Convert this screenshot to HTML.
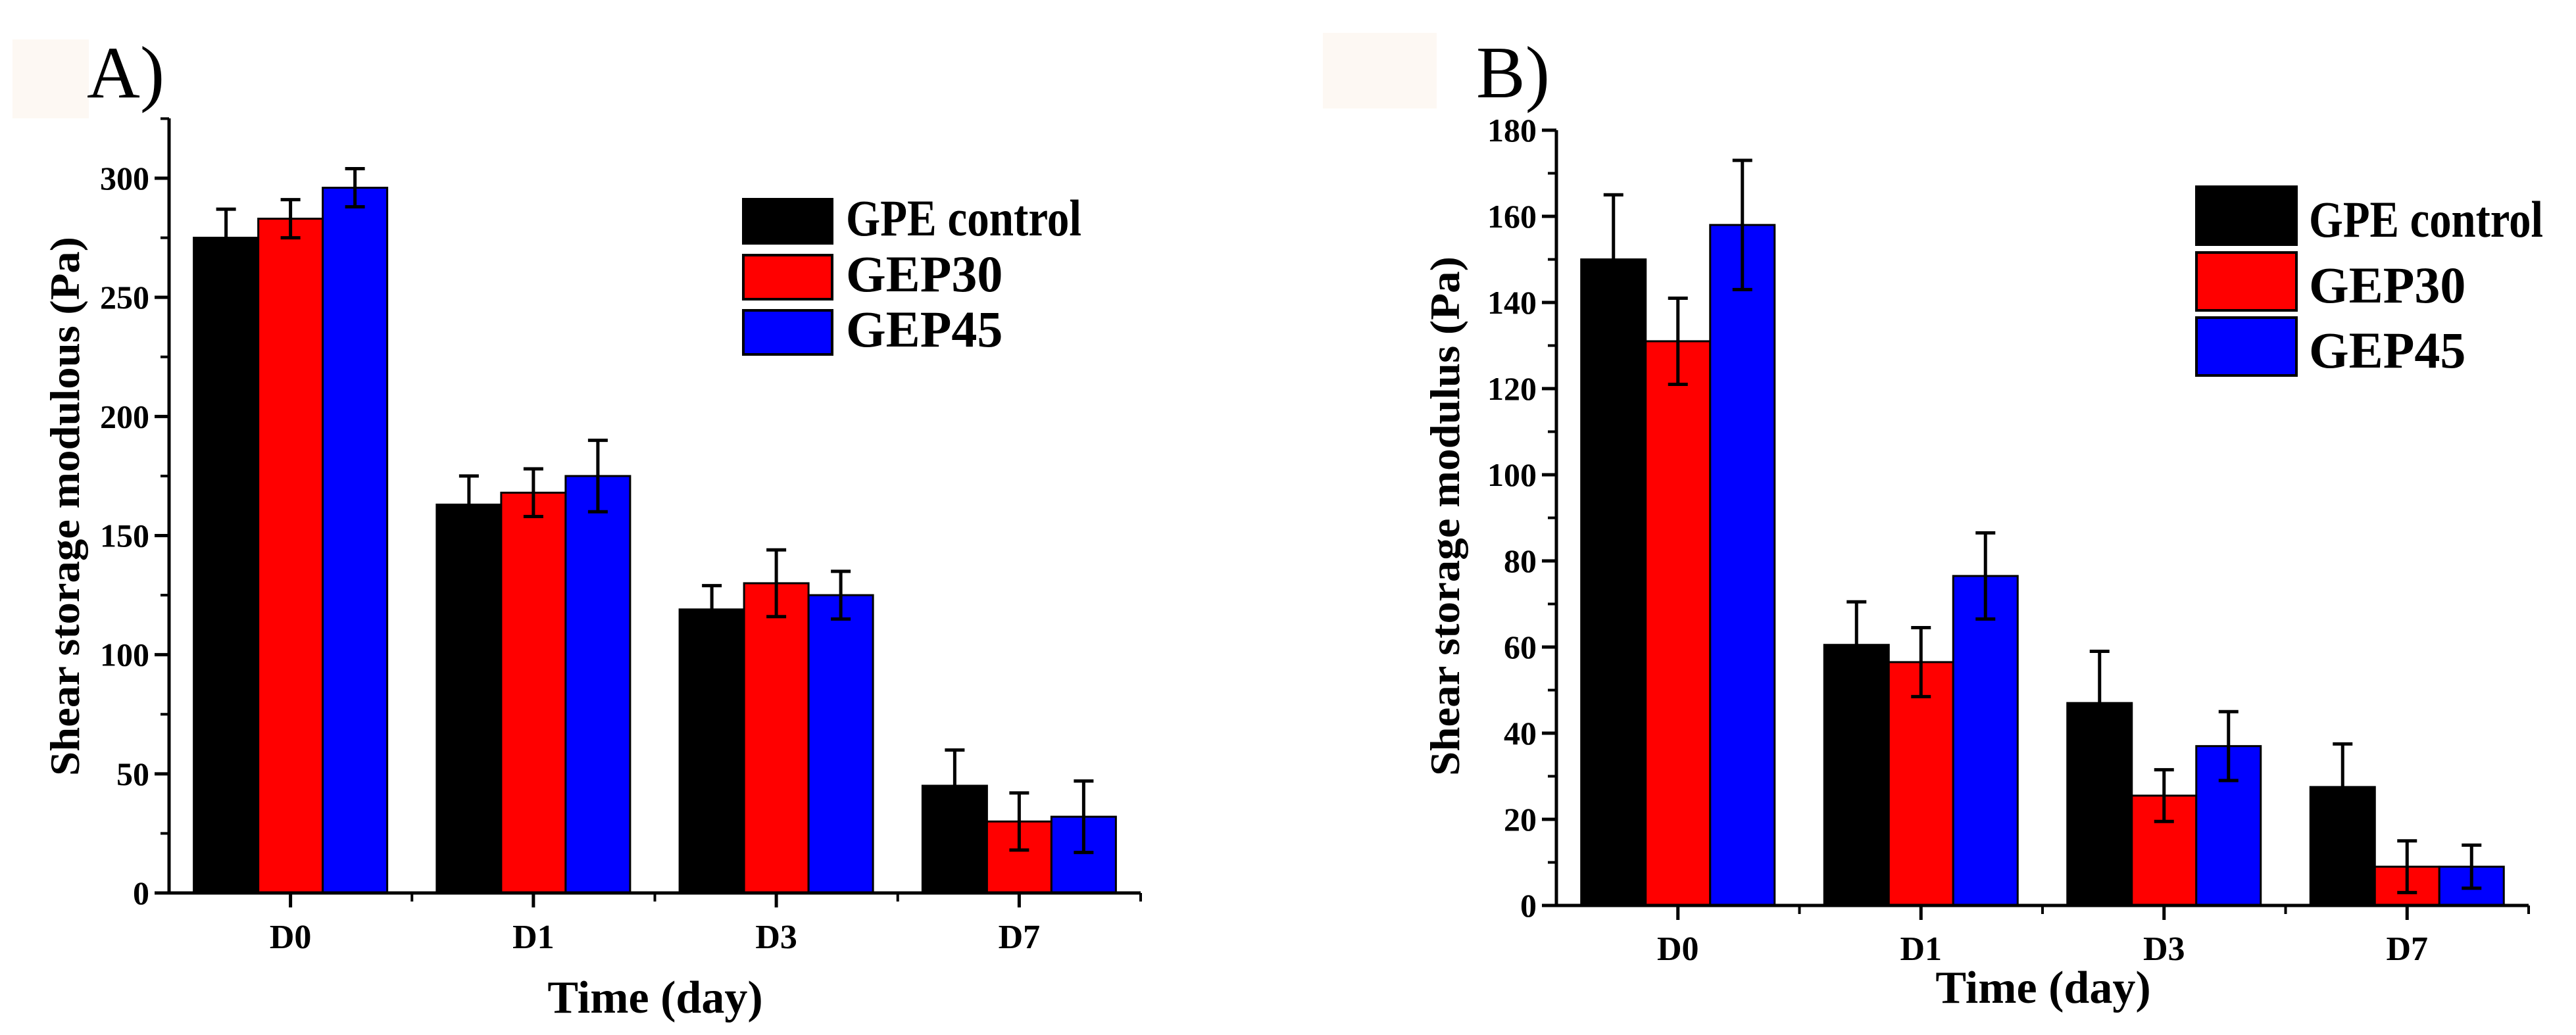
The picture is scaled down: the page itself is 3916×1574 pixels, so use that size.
<!DOCTYPE html>
<html><head><meta charset="utf-8"><style>
html,body{margin:0;padding:0;background:#fff;}
svg{display:block;font-family:"Liberation Serif",serif;}
</style></head><body>
<svg id="chart" width="3916" height="1574" viewBox="0 0 3916 1574" xmlns="http://www.w3.org/2000/svg">
<rect x="0" y="0" width="3916" height="1574" fill="#fff"/>
<rect x="19" y="60" width="116" height="120" fill="#fdf8f3"/>
<text x="132" y="148" font-size="112">A)</text>
<rect x="2011" y="50" width="173" height="115" fill="#fdf8f3"/>
<text x="2244" y="148" font-size="112">B)</text>
<g id="pa"></g>
<g id="pb"></g>
</svg>
<script>
const categories = ["D0","D1","D3","D7"];
const seriesNames = ["GPE control","GEP30","GEP45"];
const seriesColors = ["#000000","#ff0000","#0000ff"];
const aGPE = [275,163,119,45];
const aGPEerr = [12,12,10,15];
const aGEP30 = [283,168,130,30];
const aGEP30err = [8,10,14,12];
const aGEP45 = [296,175,125,32];
const aGEP45err = [8,15,10,15];
const aTicks = [0,50,100,150,200,250,300];
const bGPE = [150,60.5,47,27.5];
const bGPEerr = [15,10,12,10];
const bGEP30 = [131,56.5,25.5,9];
const bGEP30err = [10,8,6,6];
const bGEP45 = [158,76.5,37,9];
const bGEP45err = [15,10,8,5];
const bTicks = [0,20,40,60,80,100,120,140,160,180];

const NS="http://www.w3.org/2000/svg";
function mk(parent,tag,attrs,text){const e=document.createElementNS(NS,tag);for(const k in attrs)e.setAttribute(k,attrs[k]);if(text!==undefined)e.textContent=text;parent.appendChild(e);return e;}

function panel(g,cfg){
  const y=v=>cfg.y0-(v-0)*(cfg.y0-cfg.yTopTickPx)/cfg.topTick;
  const catW=(cfg.x1-cfg.x0)/categories.length;
  const cx=i=>cfg.x0+catW*(i+0.5);
  const bw=98;
  cfg.series.forEach((s,si)=>{
    s.vals.forEach((v,i)=>{
      const x=cx(i)+(si-1)*bw-bw/2;
      const r=mk(g,'rect',{x:x,y:y(v),width:bw,height:cfg.y0-y(v),fill:seriesColors[si],stroke:'#000','stroke-width':3});
      
      
      const ex=x+bw/2, top=y(v+s.err[i]), bot=y(v-s.err[i]);
      const e=mk(g,'path',{d:`M${ex},${top}V${bot}M${ex-15},${top}H${ex+15}M${ex-15},${bot}H${ex+15}`,stroke:'#000','stroke-width':5,fill:'none'});
      
      
    });
  });
  // axes
  const ax=mk(g,'path',{d:`M${cfg.x0},${cfg.yTop}V${cfg.y0}H${cfg.x1}`,stroke:'#000','stroke-width':5,fill:'none'});
  
  
  cfg.ticks.forEach((t,i)=>{
    mk(g,'line',{x1:cfg.x0-22,x2:cfg.x0,y1:y(t),y2:y(t),stroke:'#000','stroke-width':5});
    const l=mk(g,'text',{x:cfg.x0-30,y:y(t)+17,'font-size':50,'font-weight':'bold','text-anchor':'end'},t);
    
    
    const m=t+(cfg.ticks[1]-cfg.ticks[0])/2;
    if(y(m)>cfg.yTop) mk(g,'line',{x1:cfg.x0-13,x2:cfg.x0,y1:y(m),y2:y(m),stroke:'#000','stroke-width':4});
  });
  categories.forEach((c,i)=>{
    mk(g,'line',{x1:cx(i),x2:cx(i),y1:cfg.y0,y2:cfg.y0+22,stroke:'#000','stroke-width':5});
    mk(g,'line',{x1:cfg.x0+catW*(i+1),x2:cfg.x0+catW*(i+1),y1:cfg.y0,y2:cfg.y0+13,stroke:'#000','stroke-width':4});
    const l=mk(g,'text',{x:cx(i),y:cfg.xLabY,'font-size':52,'font-weight':'bold','text-anchor':'middle'},c);
    
    
  });
  const xt=mk(g,'text',{x:cfg.xTitleX,y:cfg.xTitleY,'font-size':70,'font-weight':'bold','text-anchor':'middle'},'Time (day)');
  
  
  const yt=mk(g,'text',{x:0,y:0,'font-size':64,'font-weight':'bold','text-anchor':'middle',transform:`translate(${cfg.yTitleX},${cfg.yTitleY}) rotate(-90)`,textLength:cfg.yTitleLen,lengthAdjust:'spacingAndGlyphs'},cfg.yTitle);
  
  
  // legend
  seriesNames.forEach((n,si)=>{
    const L=cfg.leg;
    const r=mk(g,'rect',{x:L.x,y:L.ys[si],width:L.w,height:L.h,fill:seriesColors[si],stroke:'#000','stroke-width':4});
    
    
    const attrs={x:L.tx,y:L.ys[si]+L.h-12,'font-size':78,'font-weight':'bold'};
    if(si===0){attrs.textLength=L.tw;attrs.lengthAdjust='spacingAndGlyphs';}
    const t=mk(g,'text',attrs,n);
    
    
  });
}
panel(document.getElementById('pa'),{
  x0:257,x1:1734,y0:1358,yTop:180,yTopTickPx:271,topTick:300,ticks:aTicks,
  series:[{vals:aGPE,err:aGPEerr},{vals:aGEP30,err:aGEP30err},{vals:aGEP45,err:aGEP45err}],
  xLabY:1442,xTitleX:996,xTitleY:1540,yTitleX:120,yTitleY:770,yTitleLen:820,yTitle:'Shear storage modulous (Pa)',
  leg:{x:1130,w:135,h:67,ys:[303,388,472],tx:1286,tw:358}
});
panel(document.getElementById('pb'),{
  x0:2366,x1:3844,y0:1377,yTop:198,yTopTickPx:198,topTick:180,ticks:bTicks,
  series:[{vals:bGPE,err:bGPEerr},{vals:bGEP30,err:bGEP30err},{vals:bGEP45,err:bGEP45err}],
  xLabY:1460,xTitleX:3106,xTitleY:1525,yTitleX:2218,yTitleY:785,yTitleLen:790,yTitle:'Shear storage modulus (Pa)',
  leg:{x:3339,w:152,h:88,ys:[284,384,483],tx:3510,tw:356}
});
</script>
</body></html>
